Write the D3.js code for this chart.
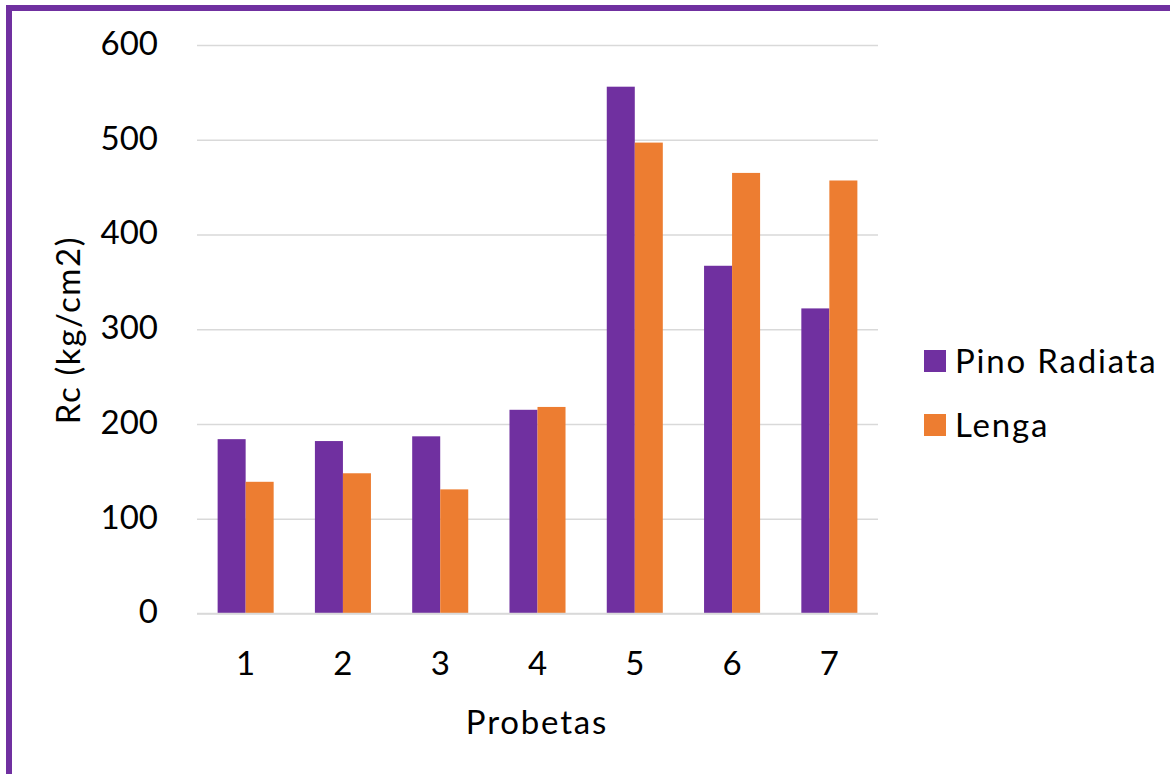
<!DOCTYPE html>
<html><head><meta charset="utf-8">
<script src="https://cdn.jsdelivr.net/npm/d3@7"></script>
<style>body{margin:0;background:#fff}svg{display:block}text{font-family:Lato,"Open Sans",sans-serif;fill:#000}</style>
</head><body>
<script>
const categories = ["1","2","3","4","5","6","7"];
const seriesNames = ["Pino Radiata","Lenga"];
const pinoRadiata = [184,182,187,215,556,367,322];
const lenga = [139,148,131,218,497,465,457];
const yTicks = [0,100,200,300,400,500,600];
const colors = ["#7030A0","#ED7D31"];

const W=1170,H=774;
const svg=d3.select("body").append("svg").attr("width",W).attr("height",H);
// border (purple frame, partly cropped)
svg.append("rect").attr("x",9).attr("y",8).attr("width",W+20).attr("height",H+20)
  .attr("fill","none").attr("stroke","#7030A0").attr("stroke-width",6);

const pLeft=197,pRight=878,pTop=45,pBottom=613.5;
const y=d3.scaleLinear().domain([0,600]).range([pBottom,pTop]);
const x0=d3.scaleBand().domain(categories).range([pLeft,pRight]).paddingInner(0.424).paddingOuter(0.212);
const x1=d3.scaleBand().domain(seriesNames).range([0,x0.bandwidth()]);

// gridlines
const yAxis=d3.axisLeft(y).tickValues(yTicks).tickSize(-(pRight-pLeft)).tickPadding(39);
const gy=svg.append("g").attr("transform",`translate(${pLeft},0)`).call(yAxis);
gy.select(".domain").remove();
gy.selectAll(".tick line").attr("stroke","#D9D9D9").attr("stroke-width",1.5);
gy.selectAll(".tick text").attr("font-size",33).attr("dy","0.28em").attr("fill","#000").style("font-family","Lato");

const data=categories.map((c,i)=>({cat:c,vals:[pinoRadiata[i],lenga[i]]}));
const g=svg.append("g");
data.forEach(d=>{
  d.vals.forEach((v,j)=>{
    g.append("rect").attr("x",x0(d.cat)+x1(seriesNames[j])).attr("width",x1.bandwidth())
     .attr("y",y(v)).attr("height",y(0)-y(v)).attr("fill",colors[j]);
  });
});
// x axis
const xAxis=d3.axisBottom(x0).tickSize(0).tickPadding(38);
const gx=svg.append("g").attr("transform",`translate(0,${pBottom})`).call(xAxis);
gx.select(".domain").attr("stroke","#D9D9D9").attr("stroke-width",1.5).attr("d",`M${pLeft},0H${pRight}`);
gx.selectAll(".tick text").attr("font-size",33).attr("fill","#000").style("font-family","Lato");

svg.append("text").attr("x",537).attr("y",734).attr("text-anchor","middle").attr("font-size",33).attr("letter-spacing",1.8).text("Probetas");
svg.append("text").attr("transform","translate(80,330) rotate(-90)").attr("text-anchor","middle").attr("font-size",33).attr("letter-spacing",1.6).text("Rc (kg/cm2)");

// legend
seriesNames.forEach((s,i)=>{
  const ly=350+i*64;
  svg.append("rect").attr("x",924).attr("y",ly).attr("width",22).attr("height",22).attr("fill",colors[i]);
  svg.append("text").attr("x",955).attr("y",ly+11).attr("dy","0.36em").attr("font-size",33).attr("letter-spacing",1.8).text(s);
});
</script>
</body></html>
